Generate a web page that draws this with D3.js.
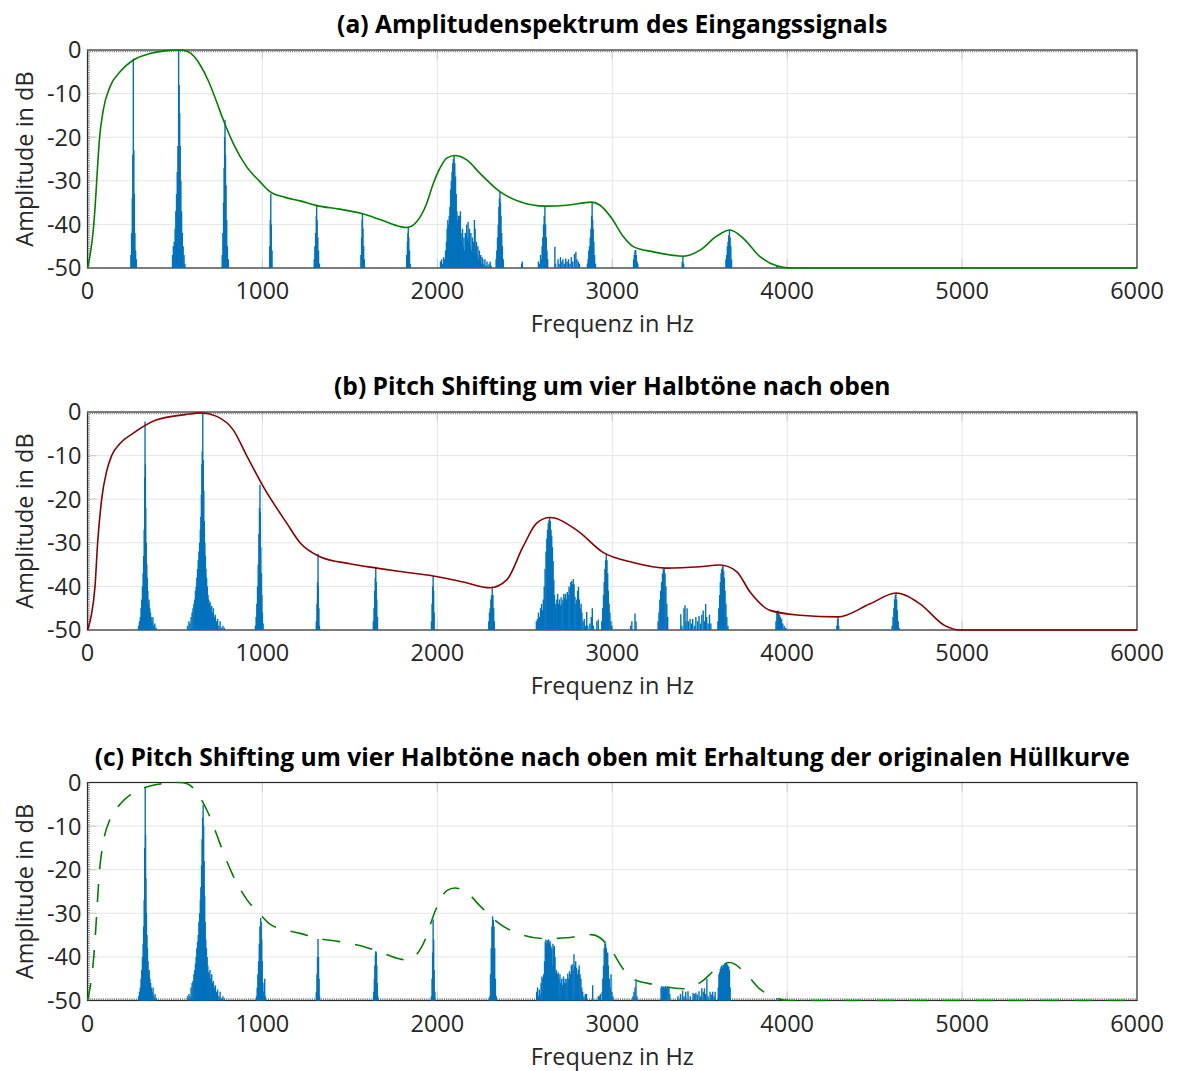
<!DOCTYPE html>
<html>
<head>
<meta charset="utf-8">
<script src="https://cdn.jsdelivr.net/npm/d3@7"></script>
<style>
	html, body { margin: 0; padding: 0; background: #fff; }
	#app { width: 1178px; height: 1071px; }
	text { font-family: 'Open Sans', Lato, sans-serif; fill: #262626; }
</style>
</head>
<body>
<div id="app"></div>
<script>
const titles = [
	'(a) Amplitudenspektrum des Eingangssignals',
	'(b) Pitch Shifting um vier Halbtöne nach oben',
	'(c) Pitch Shifting um vier Halbtöne nach oben mit Erhaltung der originalen Hüllkurve',
];
const xLabel = 'Frequenz in Hz';
const yLabel = 'Amplitude in dB';
const freqTicks = [0, 1000, 2000, 3000, 4000, 5000, 6000];
const dbTicks = [0, -10, -20, -30, -40, -50];

// envelope of the input signal (a), reused as the original envelope in (c)
const envFreqA = [0, 15, 33, 45, 53, 68, 90, 129, 186, 262, 357, 440, 525, 570, 610, 645, 690, 730, 776, 833, 910, 986, 1043, 1130, 1215, 1310, 1440, 1567, 1680, 1787, 1827, 1882, 1939, 1977, 2015, 2054, 2101, 2168, 2244, 2358, 2473, 2616, 2740, 2882, 2930, 2997, 3063, 3120, 3235, 3406, 3502, 3597, 3673, 3749, 3845, 3940, 4016, 6000];
const envDbA = [-50, -47, -41.3, -35, -29.8, -20.6, -13.8, -8.4, -5, -2.3, -0.8, -0.2, 0, -0.3, -1.5, -3.5, -7, -11, -16, -21.4, -26.8, -30.2, -32.5, -33.8, -34.6, -35.7, -36.5, -37.5, -39, -40.5, -40.7, -39.4, -35.2, -30.6, -27.1, -24.8, -24.2, -25.2, -28.3, -32.5, -34.8, -35.8, -35.6, -34.9, -35.6, -38.6, -42.8, -45.1, -46.3, -47.3, -45.9, -42.7, -41.3, -43.2, -47.4, -49.5, -50, -50];

// envelope after pitch shifting (b)
const envFreqB = [0, 20, 43, 58, 81, 110, 138, 186, 260, 396, 560, 650, 739, 833, 910, 1005, 1139, 1215, 1329, 1500, 1653, 1787, 1976, 2150, 2301, 2397, 2490, 2568, 2644, 2797, 2947, 3119, 3311, 3500, 3616, 3711, 3788, 3902, 4073, 4290, 4474, 4622, 4759, 4902, 4988, 6000];
const envDbB = [-50, -47, -40, -30, -20, -13.5, -10, -7.2, -4.9, -1.8, -0.6, -0.2, -1, -4.1, -10, -17.1, -25.5, -30, -33.2, -34.8, -35.8, -36.6, -37.6, -39, -40.3, -38.5, -30.9, -25.5, -24.2, -27.1, -32.2, -34.5, -35.8, -35.5, -35.1, -36.6, -41.3, -45.5, -46.6, -47, -44, -41.5, -44, -49, -50, -50];

// spectrum lines [Hz, dB]
const specA = [
	[248, -47], [252, -42], [256, -34], [259, -24], [262, -2], [265, -23], [268, -33], [271, -42], [275, -46], [279, -48],
	[486, -47], [491, -45], [496, -44], [501, -41], [505, -37], [509, -33], [513, -28], [517, -22], [521, 0], [524, -8], [527, -14.5], [530, -22], [534, -30], [538, -37], [542, -42], [547, -45], [552, -47], [557, -49],
	[770, -47], [774, -42], [778, -35], [781, -27], [784, -20], [786, -16], [789, -24], [792, -31], [796, -39], [800, -45], [805, -48],
	[1042, -45], [1045, -39], [1048, -33], [1051, -40], [1055, -46],
	[1296, -48], [1300, -45], [1304, -42], [1308, -38], [1310, -35.5], [1313, -39], [1317, -43], [1321, -46], [1326, -49],
	[1563, -47], [1567, -43], [1570, -39], [1572, -37.3], [1575, -41], [1579, -45], [1583, -48],
	[1825, -47], [1829, -44], [1832, -42], [1834, -40.5], [1837, -43], [1841, -46], [1845, -49],
	[2018, -48.5], [2024, -48], [2030, -49], [2036, -47.5], [2042, -48], [2047, -46], [2052, -44], [2056, -41], [2060, -39], [2064, -40], [2068, -38], [2072, -36], [2076, -32], [2080, -30], [2084, -28], [2088, -26], [2092, -25], [2096, -24.2], [2100, -26], [2104, -29], [2108, -33], [2112, -37], [2116, -39], [2120, -38], [2124, -40], [2128, -38], [2132, -37], [2136, -42], [2140, -44], [2144, -41], [2148, -45], [2152, -43], [2156, -46], [2160, -42], [2164, -44], [2168, -40], [2172, -43], [2176, -39.4], [2180, -44], [2184, -41], [2188, -45], [2192, -42], [2196, -46], [2200, -43], [2204, -47], [2208, -44], [2212, -39], [2216, -41], [2220, -45], [2224, -44], [2228, -47], [2232, -45], [2236, -48], [2240, -46], [2244, -48.5], [2248, -47], [2252, -49], [2256, -47.5], [2260, -48], [2266, -49], [2272, -48], [2278, -49.5], [2284, -48.5], [2290, -49.5], [2296, -49], [2302, -48.5], [2308, -49.5],
	[2336, -48], [2340, -46], [2344, -43], [2348, -40], [2352, -36], [2355, -34], [2358, -32.5], [2361, -35], [2364, -38], [2368, -42], [2372, -45], [2377, -48],
	[2482, -49], [2486, -48.5],
	[2578, -48.5], [2584, -49], [2590, -47], [2595, -48], [2599, -45], [2603, -43], [2607, -40], [2611, -38], [2615, -35.8], [2619, -40], [2623, -43], [2627, -46], [2631, -48],
	[2672, -45.1], [2676, -49], [2690, -48], [2696, -49], [2704, -47.5], [2712, -48.5], [2718, -48], [2726, -49], [2734, -47.8], [2742, -48.5], [2750, -48], [2758, -49], [2766, -47.5], [2774, -48.5], [2784, -46.8], [2792, -46.3], [2798, -48], [2806, -48.5], [2812, -49],
	[2858, -49], [2862, -48], [2866, -46], [2870, -45], [2874, -43], [2878, -41], [2882, -38], [2885, -35], [2888, -39], [2891, -41], [2895, -44], [2899, -47], [2904, -49],
	[3122, -48], [3126, -47], [3130, -46], [3134, -45.9], [3138, -47], [3142, -48.5], [3146, -49],
	[3400, -48.5], [3404, -47.2], [3408, -49],
	[3650, -48], [3654, -47], [3658, -45], [3662, -44], [3666, -42.5], [3670, -41.3], [3674, -43], [3678, -45], [3682, -48],
	[3940, -49.4],
];

const specB = [
	[292, -49], [297, -48], [302, -47], [306, -45], [310, -43], [314, -40], [318, -37], [321, -33], [324, -27], [327, -15], [329, -2.2], [331, -12], [333, -22], [336, -30], [339, -35], [342, -38], [345, -41], [348, -44], [352, -43], [356, -45], [360, -46], [364, -47], [369, -48], [374, -47], [379, -49], [385, -48.5], [392, -49.5],
	[572, -49], [580, -48], [586, -48.5], [592, -47], [598, -46], [603, -45], [608, -44], [613, -43], [617, -41], [621, -40], [625, -38], [629, -36], [633, -34], [637, -32], [641, -30], [645, -27], [648, -24], [651, -19], [654, -12], [656, -9], [659, -0.3], [662, -11], [665, -18], [668, -25], [671, -30], [674, -33], [677, -36], [681, -38], [685, -40], [689, -42], [693, -43], [697, -44], [701, -43.5], [705, -45], [710, -44.5], [715, -46], [720, -45], [725, -47], [731, -46.5], [737, -48], [744, -47.5], [751, -49], [758, -48], [766, -49.5], [774, -49], [782, -49.5],
	[960, -49], [964, -47], [968, -44], [972, -40], [976, -35], [980, -28], [983, -22], [986, -16.7], [988, -23], [991, -31], [994, -37], [997, -42], [1000, -46], [1004, -48.5],
	[1308, -48], [1312, -44], [1315, -39], [1318, -32.5], [1320, -40], [1323, -45], [1326, -49],
	[1634, -48], [1638, -45], [1642, -41], [1645, -38], [1648, -35.5], [1651, -39], [1654, -43], [1658, -47],
	[1966, -48], [1970, -44], [1973, -40], [1976, -37.6], [1979, -41], [1982, -46],
	[2294, -48], [2298, -46], [2302, -45], [2306, -43], [2310, -42], [2314, -40.4], [2318, -42], [2322, -45], [2326, -48],
	[2566, -48], [2572, -47.5], [2578, -46], [2584, -47], [2590, -45], [2596, -44], [2601, -45.5], [2606, -43], [2611, -40], [2616, -36], [2621, -32], [2626, -29], [2630, -27], [2634, -25.5], [2638, -24.8], [2642, -24.3], [2646, -25], [2650, -27], [2654, -28.4], [2658, -31], [2662, -34.2], [2666, -38.5], [2670, -42], [2674, -44], [2678, -45], [2683, -43], [2688, -41.7], [2693, -44], [2698, -43], [2703, -44.3], [2708, -42.5], [2713, -44], [2718, -43], [2723, -41.7], [2728, -42.5], [2733, -41.7], [2738, -43], [2743, -41.3], [2748, -42], [2753, -40], [2758, -40.5], [2763, -39], [2768, -38.8], [2773, -39.5], [2777, -38.3], [2782, -39.5], [2787, -42.4], [2792, -44], [2797, -43], [2802, -41], [2807, -40.1], [2812, -43], [2817, -45], [2822, -44], [2827, -46], [2833, -48], [2840, -47.5], [2847, -49], [2854, -45.9], [2860, -49], [2872, -48.5], [2880, -47], [2886, -45], [2892, -49], [2912, -48], [2920, -47.6],
	[2940, -48], [2945, -45], [2950, -42], [2954, -39], [2958, -36], [2962, -34], [2966, -32.6], [2970, -34], [2974, -37], [2978, -41], [2982, -44], [2987, -46], [2992, -48], [2997, -49],
	[3105, -49], [3112, -48], [3130, -46.2], [3136, -48],
	[3262, -48], [3267, -46], [3272, -43], [3277, -41], [3282, -39], [3287, -37], [3292, -36], [3297, -35.8], [3302, -37], [3307, -40], [3312, -44], [3317, -47],
	[3392, -46.4], [3398, -49], [3410, -45], [3416, -44.3], [3422, -48], [3428, -45], [3436, -48], [3445, -47.5], [3452, -48.5], [3460, -47.5], [3470, -49], [3478, -47], [3488, -48], [3496, -46.8], [3504, -48.5], [3512, -46.5], [3520, -45.5], [3528, -48], [3534, -44], [3540, -47], [3548, -48.5], [3556, -46.5], [3564, -48.5],
	[3604, -48], [3609, -45], [3614, -42], [3618, -39], [3622, -37], [3626, -36], [3630, -35.5], [3633, -35.1], [3637, -36.5], [3641, -38], [3645, -41], [3650, -44], [3655, -47], [3661, -49],
	[3936, -48], [3941, -46], [3946, -45.5], [3951, -45.8], [3956, -46.5], [3962, -47], [3968, -47.5], [3975, -48.5], [3983, -49], [3992, -49.5],
	[4284, -49], [4288, -47.5], [4291, -47], [4295, -49],
	[4600, -49], [4605, -47], [4610, -45], [4614, -43], [4618, -42], [4622, -41.5], [4626, -43], [4630, -45.5], [4635, -48], [4640, -49.5],
];

const specC = [
	[292, -49], [297, -48], [302, -47], [306, -45], [310, -43], [314, -40], [318, -37], [321, -33], [324, -27], [327, -15], [330, -1], [332, -12], [334, -22], [337, -30], [340, -35], [343, -38], [346, -41], [349, -44], [353, -43], [357, -45], [361, -46], [365, -47], [370, -48], [375, -47], [380, -49], [386, -48.5], [393, -49.5],
	[572, -49], [580, -48.5], [586, -49], [592, -47], [598, -46], [603, -45.5], [608, -44], [613, -43], [617, -41.5], [621, -40], [625, -38], [629, -36.5], [633, -35], [637, -32], [641, -30], [645, -27], [648, -24], [652, -19], [655, -13], [658, -8], [661, -5.1], [664, -10], [667, -18], [670, -26], [673, -32], [676, -36], [680, -38], [684, -40], [688, -42], [692, -43.5], [696, -44], [700, -43], [705, -45], [710, -44], [715, -46], [720, -45.5], [725, -47], [731, -46.5], [737, -48], [744, -47.5], [751, -49], [758, -48], [766, -49.5], [774, -49], [782, -49.5],
	[966, -49], [970, -47], [974, -44], [978, -41], [982, -37], [986, -33], [990, -31.1], [993, -32], [996, -36], [999, -41], [1003, -46], [1008, -48], [1013, -45], [1017, -49],
	[1308, -48], [1312, -44], [1315, -40], [1318, -35.9], [1321, -40], [1324, -45], [1327, -49],
	[1636, -48], [1640, -45], [1643, -42], [1646, -39.5], [1648, -38.7], [1651, -39], [1654, -42], [1657, -46], [1660, -49],
	[1966, -49], [1970, -45], [1973, -39], [1976, -31.4], [1979, -36], [1982, -43], [1986, -48],
	[2300, -49], [2304, -44], [2308, -38], [2312, -33], [2316, -30.7], [2320, -31.5], [2324, -33], [2328, -38], [2332, -45], [2337, -49],
	[2568, -48], [2573, -47], [2578, -49], [2583, -47.5], [2588, -48.5], [2593, -46], [2598, -44.5], [2603, -45], [2608, -44], [2613, -41], [2617, -36.5], [2621, -36], [2625, -37], [2629, -36.2], [2633, -36.5], [2637, -36], [2641, -37], [2645, -36.4], [2649, -37.5], [2653, -38], [2657, -42], [2661, -37], [2665, -38], [2669, -37.5], [2673, -40], [2677, -43.6], [2681, -43], [2686, -44], [2691, -43.6], [2696, -45], [2701, -44], [2706, -46], [2711, -45], [2716, -46.5], [2721, -44.5], [2726, -46], [2731, -45], [2736, -46], [2741, -45], [2746, -43.8], [2751, -45], [2756, -43.3], [2761, -44], [2766, -42], [2771, -41.7], [2776, -43], [2781, -39.4], [2786, -42], [2791, -41], [2796, -42.5], [2801, -44], [2806, -43], [2811, -42], [2816, -44], [2821, -45], [2826, -47], [2831, -48], [2838, -49], [2846, -48.5], [2853, -48.5], [2888, -46.5], [2920, -49], [2926, -49], [2932, -48.5],
	[2942, -48], [2946, -45], [2950, -42], [2954, -38], [2958, -36.4], [2962, -37], [2966, -38], [2970, -40], [2974, -39], [2978, -42], [2983, -45], [2988, -47], [2993, -44], [2998, -48], [3004, -49],
	[3118, -49], [3124, -48], [3130, -47], [3136, -45.6], [3141, -49],
	[3279, -47], [3284, -46.7], [3289, -47], [3294, -46.8], [3299, -47], [3304, -46.7], [3309, -47.2], [3314, -46.8], [3319, -47.2], [3324, -47], [3329, -48.5],
	[3376, -49], [3390, -48.5], [3402, -47.7], [3410, -49], [3420, -48], [3433, -47.9], [3446, -49], [3462, -48.3], [3470, -48.5], [3478, -48.2], [3486, -48.6], [3496, -47.9], [3504, -49], [3512, -47.2], [3520, -48], [3527, -47.2], [3534, -48.5], [3541, -45], [3548, -49], [3559, -48], [3566, -48.6], [3574, -48], [3582, -49], [3588, -48],
	[3606, -47], [3610, -44], [3614, -43.5], [3618, -42.8], [3622, -42.3], [3626, -42], [3630, -42.5], [3634, -41.8], [3638, -42], [3642, -41.5], [3646, -41.7], [3650, -41.5], [3654, -41.6], [3658, -41.8], [3662, -42], [3666, -42.3], [3670, -43], [3674, -47],
	[3940, -49.5],
];

const render = () => {
	const width = 1178;
	const height = 1071;
	const plotLeft = 87.5;
	const plotRight = 1137;
	const plotHeight = 218;
	const fontSize = 23.5;

	const panels = [
		{ top: 50, title: titles[0], spec: specA, envF: envFreqA, envD: envDbA, color: '#008000', dash: null, dotted: ['top', 'left'] },
		{ top: 412, title: titles[1], spec: specB, envF: envFreqB, envD: envDbB, color: '#8b0000', dash: null, dotted: ['top', 'left'] },
		{ top: 782.5, title: titles[2], spec: specC, envF: envFreqA, envD: envDbA, color: '#008000', dash: '18,15', dotted: ['bottom', 'left'] },
	];

	const svg = d3.select('#app').append('svg')
		.attr('width', width)
		.attr('height', height);

	const x = d3.scaleLinear().domain([0, 6000]).range([plotLeft, plotRight]);

	panels.forEach((p, i) => {
		const y = d3.scaleLinear().domain([-50, 0]).range([p.top + plotHeight, p.top]);
		const g = svg.append('g');
		const clipId = `clip${i}`;

		g.append('clipPath').attr('id', clipId)
			.append('rect')
			.attr('x', plotLeft - 1)
			.attr('y', p.top - 1)
			.attr('width', plotRight - plotLeft + 2)
			.attr('height', plotHeight + 2);

		// grid
		g.selectAll('.gx').data(freqTicks.slice(1, -1)).join('line')
			.attr('x1', (d) => x(d)).attr('x2', (d) => x(d))
			.attr('y1', p.top).attr('y2', p.top + plotHeight)
			.attr('stroke', '#e6e6e6').attr('stroke-width', 1);
		g.selectAll('.gy').data(dbTicks.slice(1, -1)).join('line')
			.attr('x1', plotLeft).attr('x2', plotRight)
			.attr('y1', (d) => y(d)).attr('y2', (d) => y(d))
			.attr('stroke', '#e6e6e6').attr('stroke-width', 1);

		// inward tick marks
		const tickLen = 9;
		freqTicks.slice(1, -1).forEach((t) => {
			[[p.top + plotHeight, -tickLen], [p.top, tickLen]].forEach(([y0, dy]) => {
				g.append('line')
					.attr('x1', x(t)).attr('x2', x(t))
					.attr('y1', y0).attr('y2', y0 + dy)
					.attr('stroke', '#cfcfcf').attr('stroke-width', 1.2);
			});
		});
		dbTicks.slice(1, -1).forEach((t) => {
			[[plotLeft, tickLen], [plotRight, -tickLen]].forEach(([x0, dx]) => {
				g.append('line')
					.attr('x1', x0).attr('x2', x0 + dx)
					.attr('y1', y(t)).attr('y2', y(t))
					.attr('stroke', '#cfcfcf').attr('stroke-width', 1.2);
			});
		});

		// box
		g.append('rect')
			.attr('x', plotLeft).attr('y', p.top)
			.attr('width', plotRight - plotLeft).attr('height', plotHeight)
			.attr('fill', 'none').attr('stroke', '#262626').attr('stroke-width', 1.2);

		// dense minor ticks (dotted edge)
		p.dotted.forEach((side) => {
			const l = g.append('line')
				.attr('stroke', '#777').attr('stroke-width', 2).attr('stroke-dasharray', '1,1.2');
			if (side === 'top') l.attr('x1', plotLeft).attr('x2', plotRight).attr('y1', p.top + 1.3).attr('y2', p.top + 1.3);
			if (side === 'bottom') l.attr('x1', plotLeft).attr('x2', plotRight).attr('y1', p.top + plotHeight - 1.3).attr('y2', p.top + plotHeight - 1.3);
			if (side === 'left') l.attr('x1', plotLeft + 1.3).attr('x2', plotLeft + 1.3).attr('y1', p.top).attr('y2', p.top + plotHeight);
		});

		const data = g.append('g').attr('clip-path', `url(#${clipId})`);

		// spectrum
		data.selectAll('line.spec').data(p.spec).join('line')
			.attr('class', 'spec')
			.attr('x1', (d) => x(d[0])).attr('x2', (d) => x(d[0]))
			.attr('y1', y(-50)).attr('y2', (d) => y(d[1]))
			.attr('stroke', '#0072bd').attr('stroke-width', 1.4);

		// envelope
		const env = p.envF.map((f, k) => [f, p.envD[k]]);
		const line = d3.line()
			.x((d) => x(d[0]))
			.y((d) => y(d[1]))
			.curve(d3.curveMonotoneX);
		data.append('path')
			.attr('d', line(env))
			.attr('fill', 'none')
			.attr('stroke', p.color)
			.attr('stroke-width', 1.6)
			.attr('stroke-dasharray', p.dash);

		// tick labels
		g.selectAll('.xl').data(freqTicks).join('text')
			.attr('x', (d) => x(d))
			.attr('y', p.top + plotHeight + 31)
			.attr('text-anchor', 'middle')
			.attr('font-size', fontSize)
			.text((d) => d);
		g.selectAll('.yl').data(dbTicks).join('text')
			.attr('x', plotLeft - 6)
			.attr('y', (d) => y(d))
			.attr('dy', '0.36em')
			.attr('text-anchor', 'end')
			.attr('font-size', fontSize)
			.text((d) => d);

		// axis labels
		g.append('text')
			.attr('x', (plotLeft + plotRight) / 2)
			.attr('y', p.top + plotHeight + 64)
			.attr('text-anchor', 'middle')
			.attr('font-size', fontSize)
			.text(xLabel);
		g.append('text')
			.attr('transform', `translate(33, ${p.top + plotHeight / 2}) rotate(-90)`)
			.attr('text-anchor', 'middle')
			.attr('font-size', fontSize)
			.text(yLabel);

		// title
		g.append('text')
			.attr('x', (plotLeft + plotRight) / 2)
			.attr('y', p.top - 17)
			.attr('text-anchor', 'middle')
			.attr('font-size', 24.6)
			.attr('font-weight', 'bold')
			.style('fill', '#000')
			.text(p.title);
	});
};

render();
</script>
</body>
</html>
